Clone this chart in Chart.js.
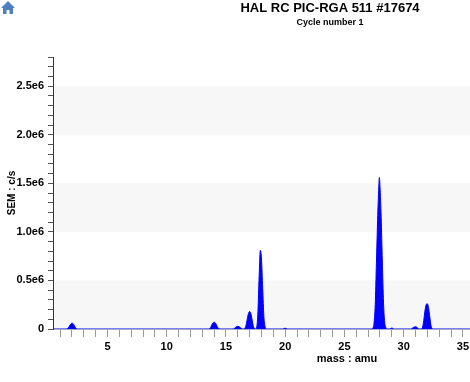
<!DOCTYPE html>
<html lang="en">
<head>
    <meta charset="UTF-8">
    <title>HAL RC PIC-RGA 511 #17674</title>
    <script src="https://cdn.jsdelivr.net/npm/chart.js"></script>
    <style>
        body { margin: 0; background: #fff; }
        #wrap { width: 470px; height: 382px; position: relative; }
    </style>
</head>
<body>
    <div id="wrap"><canvas id="rgaChart"></canvas></div>

    <script>
        // scan data: mass (amu) and SEM signal (c/s)
        const scanMass = [
            0.4, 1.5,
            1.6, 1.7, 1.8, 1.9, 2.0, 2.1, 2.2, 2.3, 2.4, 2.5,
            13.5, 13.6, 13.7, 13.8, 13.9, 14.0, 14.1, 14.2, 14.3, 14.4, 14.5,
            15.6, 15.7, 15.8, 15.9, 16.0, 16.1, 16.2, 16.3, 16.4,
            16.5, 16.6, 16.7, 16.8, 16.9, 17.0, 17.1, 17.2, 17.3, 17.4, 17.5,
            17.6, 17.7, 17.8, 17.9, 18.0, 18.1, 18.2, 18.3, 18.4,
            19.8, 19.9, 20.0, 20.1, 20.2,
            27.3, 27.4, 27.5, 27.6, 27.7, 27.8, 27.9, 27.95, 28.0, 28.1, 28.2, 28.3, 28.4, 28.5, 28.6,
            28.8, 28.9, 29.0, 29.1, 29.2,
            30.6, 30.7, 30.8, 30.9, 31.0, 31.1, 31.2, 31.3,
            31.5, 31.6, 31.7, 31.8, 31.9, 32.0, 32.1, 32.2, 32.3, 32.4, 32.5,
            35.6
        ];
        const scanSignal = [
            0, 0,
            3000, 12000, 33000, 52000, 60000, 54000, 36000, 14000, 3000, 0,
            0, 3000, 14000, 40000, 62000, 70000, 63000, 42000, 16000, 4000, 0,
            0, 5000, 15000, 25000, 28000, 25000, 15000, 5000, 0,
            0, 8000, 40000, 105000, 160000, 180000, 160000, 100000, 35000, 6000, 0,
            20000, 180000, 540000, 810000, 720000, 420000, 130000, 25000, 0,
            0, 5000, 8000, 5000, 0,
            0, 10000, 60000, 250000, 680000, 1120000, 1460000, 1560000, 1470000, 1150000, 700000, 270000, 70000, 15000, 0,
            0, 6000, 10000, 6000, 0,
            0, 5000, 14000, 20000, 22000, 18000, 8000, 0,
            0, 20000, 90000, 190000, 250000, 260000, 220000, 130000, 40000, 6000, 0,
            0
        ];

        const yMajorTicks = [0, 500000, 1000000, 1500000, 2000000, 2500000];
        const yTickLabels = ['0', '0.5e6', '1.0e6', '1.5e6', '2.0e6', '2.5e6'];
        const xMajorTicks = [5, 10, 15, 20, 25, 30, 35];
        const xTickLabels = ['5', '10', '15', '20', '25', '30', '35'];
        const bandRanges = [[0, 500000], [1000000, 1500000], [2000000, 2500000]];

        const points = scanMass.map((m, i) => ({ x: m, y: scanSignal[i] }));

        const decorPlugin = {
            id: 'decor',
            beforeDraw(chart) {
                const { ctx, chartArea, scales } = chart;
                ctx.save();
                ctx.fillStyle = '#f7f7f7';
                bandRanges.forEach(([lo, hi]) => {
                    const top = scales.y.getPixelForValue(hi);
                    const bottom = scales.y.getPixelForValue(lo);
                    ctx.fillRect(chartArea.left, top, chartArea.right - chartArea.left, bottom - top);
                });
                ctx.restore();
            },
            afterDraw(chart) {
                const { ctx } = chart;
                ctx.save();
                ctx.fillStyle = '#000';
                ctx.textAlign = 'center';
                ctx.textBaseline = 'middle';
                ctx.font = 'bold 13px "Liberation Sans", Arial, sans-serif';
                ctx.fillText('HAL RC PIC-RGA 511 #17674', 330, 8);
                ctx.font = 'bold 9px "Liberation Sans", Arial, sans-serif';
                ctx.fillText('Cycle number 1', 330, 23);
                ctx.font = 'bold 11px "Liberation Sans", Arial, sans-serif';
                ctx.fillText('mass : amu', 347, 359);

                // home icon
                ctx.fillStyle = '#4f7fc0';
                ctx.beginPath();
                ctx.moveTo(1, 8);
                ctx.lineTo(8, 1);
                ctx.lineTo(15, 8);
                ctx.lineTo(13, 8);
                ctx.lineTo(13, 14);
                ctx.lineTo(9.5, 14);
                ctx.lineTo(9.5, 10);
                ctx.lineTo(6.5, 10);
                ctx.lineTo(6.5, 14);
                ctx.lineTo(3, 14);
                ctx.lineTo(3, 8);
                ctx.closePath();
                ctx.fill();
                ctx.restore();
            }
        };

        new Chart(document.getElementById('rgaChart'), {
            type: 'line',
            data: {
                datasets: [{
                    data: points,
                    borderColor: '#0000ff',
                    backgroundColor: '#0000ff',
                    borderWidth: 1,
                    pointRadius: 0,
                    fill: 'origin',
                    cubicInterpolationMode: 'monotone'
                }]
            },
            options: {
                animation: false,
                responsive: true,
                maintainAspectRatio: false,
                layout: { padding: { top: 57, right: 0, left: 0, bottom: 0 } },
                plugins: {
                    legend: { display: false },
                    tooltip: { enabled: false }
                },
                scales: {
                    x: {
                        type: 'linear',
                        min: 0.4,
                        max: 35.6,
                        afterFit: s => {
                            s.height = 53;
                            s.paddingLeft = 0;
                            s.paddingRight = 0;
                        },
                        // one minor tick per amu between the bounds
                        afterBuildTicks: s => {
                            const ticks = [];
                            for (let v = Math.ceil(s.min); v <= Math.floor(s.max); v++) ticks.push({ value: v });
                            s.ticks = ticks;
                        },
                        border: { color: '#a4a8c8', width: 1 },
                        grid: { drawOnChartArea: false, tickLength: 8, tickColor: '#9a9a9a' },
                        ticks: {
                            stepSize: 1,
                            includeBounds: false,
                            autoSkip: false,
                            maxRotation: 0,
                            padding: 3,
                            color: '#000',
                            font: { family: '"Liberation Sans", Arial, sans-serif', size: 11, weight: 'bold' },
                            callback: v => {
                                const i = xMajorTicks.indexOf(v);
                                return i >= 0 ? xTickLabels[i] : '';
                            }
                        }
                    },
                    y: {
                        min: 0,
                        max: 2800000,
                        afterFit: s => { s.width = 53; },
                        border: { color: '#333', width: 1 },
                        grid: { drawOnChartArea: false, tickLength: 5, tickColor: '#555' },
                        title: {
                            display: true,
                            text: 'SEM : c/s',
                            color: '#000',
                            padding: { top: 6, bottom: 0 },
                            font: { family: '"Liberation Sans", Arial, sans-serif', size: 10, weight: 'bold' }
                        },
                        ticks: {
                            stepSize: 100000,
                            autoSkip: false,
                            padding: 4,
                            color: '#000',
                            font: { family: '"Liberation Sans", Arial, sans-serif', size: 11, weight: 'bold' },
                            callback: v => {
                                const i = yMajorTicks.indexOf(v);
                                return i >= 0 ? yTickLabels[i] : '';
                            }
                        }
                    }
                }
            },
            plugins: [decorPlugin]
        });
    </script>
</body>
</html>
